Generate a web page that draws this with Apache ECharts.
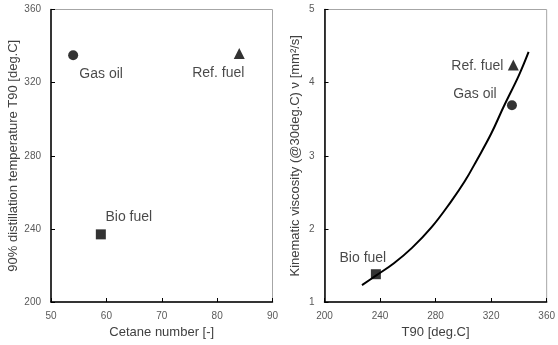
<!DOCTYPE html>
<html>
<head>
<meta charset="utf-8">
<script src="https://cdn.jsdelivr.net/npm/echarts@6/dist/echarts.min.js"></script>
<style>
  html, body { margin: 0; padding: 0; background: #fff; }
  #chart { width: 558px; height: 345px; }
</style>
</head>
<body>
<div id="chart"></div>
<script>
// fuels: cetane number vs T90, and T90 vs kinematic viscosity
const fuelNames = ['Gas oil', 'Ref. fuel', 'Bio fuel']
const fuelSymbols = ['circle', 'triangle', 'rect']
const cetane = [54, 84, 59]
const t90 = [335, 336, 237]
const viscosity = [3.69, 4.24, 1.38]

// fitted curve
const curveT90 = [227, 237, 250, 263, 277, 291, 301, 310, 320, 329, 340, 347]
const curveVisc = [1.23, 1.36, 1.53, 1.74, 2.02, 2.37, 2.65, 2.95, 3.3, 3.67, 4.1, 4.42]

// label offsets (px) around each marker
const leftOffsets = [[28, 19], [-21, 20], [28, -17]]
const rightOffsets = [[-37, -11], [-36, 1], [-13, -16]]

const FONT = 'Liberation Sans, Arial, sans-serif'
const tickLabel = { fontSize: 10, color: '#595959', fontFamily: FONT }
const nameStyle = { fontSize: 13, color: '#404040', fontFamily: FONT }
const axisLine = { show: true, lineStyle: { color: '#000', width: 1.5 } }
const axisTick = { show: true, inside: true, length: 4, lineStyle: { color: '#000', width: 1 } }

function markerSeries(xIdx, yIdx, xs, ys, offsets, i) {
  const sizes = { circle: 10, triangle: 11, rect: 10 }
  return {
    type: 'scatter',
    xAxisIndex: xIdx,
    yAxisIndex: yIdx,
    symbol: fuelSymbols[i],
    symbolSize: sizes[fuelSymbols[i]],
    itemStyle: { color: '#000' },
    data: [[xs[i], ys[i]]],
    label: {
      show: true,
      position: 'inside',
      offset: offsets[i],
      formatter: fuelNames[i],
      fontSize: 14,
      color: '#1a1a1a',
      fontFamily: FONT
    },
    z: 5
  }
}

const chart = echarts.init(document.getElementById('chart'))

const series = []
for (let i = 0; i < fuelNames.length; i++) {
  series.push(markerSeries(0, 0, cetane, t90, leftOffsets, i))
}
for (let i = 0; i < fuelNames.length; i++) {
  series.push(markerSeries(1, 1, t90, viscosity, rightOffsets, i))
}
series.push({
  type: 'line',
  xAxisIndex: 1,
  yAxisIndex: 1,
  smooth: 0.4,
  symbol: 'none',
  lineStyle: { color: '#000', width: 2 },
  data: curveT90.map((t, i) => [t, curveVisc[i]]),
  z: 3
})

chart.setOption({
  animation: false,
  backgroundColor: '#fff',
  grid: [
    { left: 51, top: 9.5, width: 221.5, height: 292.5, show: true, borderColor: '#a6a6a6', borderWidth: 1 },
    { left: 324.5, top: 9.5, width: 225.5, height: 292.5, show: true, borderColor: '#a6a6a6', borderWidth: 1 }
  ],
  xAxis: [
    {
      gridIndex: 0, type: 'value', min: 50, max: 90, interval: 10,
      name: 'Cetane number [-]', nameLocation: 'middle', nameGap: 22, nameTextStyle: nameStyle,
      axisLine, axisTick, axisLabel: { ...tickLabel, margin: 9 }, splitLine: { show: false }
    },
    {
      gridIndex: 1, type: 'value', min: 200, max: 360, interval: 40,
      name: 'T90 [deg.C]', nameLocation: 'middle', nameGap: 22, nameTextStyle: nameStyle,
      axisLine, axisTick, axisLabel: { ...tickLabel, margin: 9 }, splitLine: { show: false }
    }
  ],
  yAxis: [
    {
      gridIndex: 0, type: 'value', min: 200, max: 360, interval: 40,
      name: '90% distillation temperature T90 [deg.C]', nameLocation: 'middle', nameGap: 31,
      nameTextStyle: nameStyle,
      axisLine, axisTick, axisLabel: { ...tickLabel, margin: 10 }, splitLine: { show: false }
    },
    {
      gridIndex: 1, type: 'value', min: 1, max: 5, interval: 1,
      name: 'Kinematic viscosity (@30deg.C) ν [mm²/s]', nameLocation: 'middle', nameGap: 23,
      nameTextStyle: nameStyle,
      axisLine, axisTick, axisLabel: { ...tickLabel, margin: 10 }, splitLine: { show: false }
    }
  ],
  series
})
</script>
</body>
</html>
